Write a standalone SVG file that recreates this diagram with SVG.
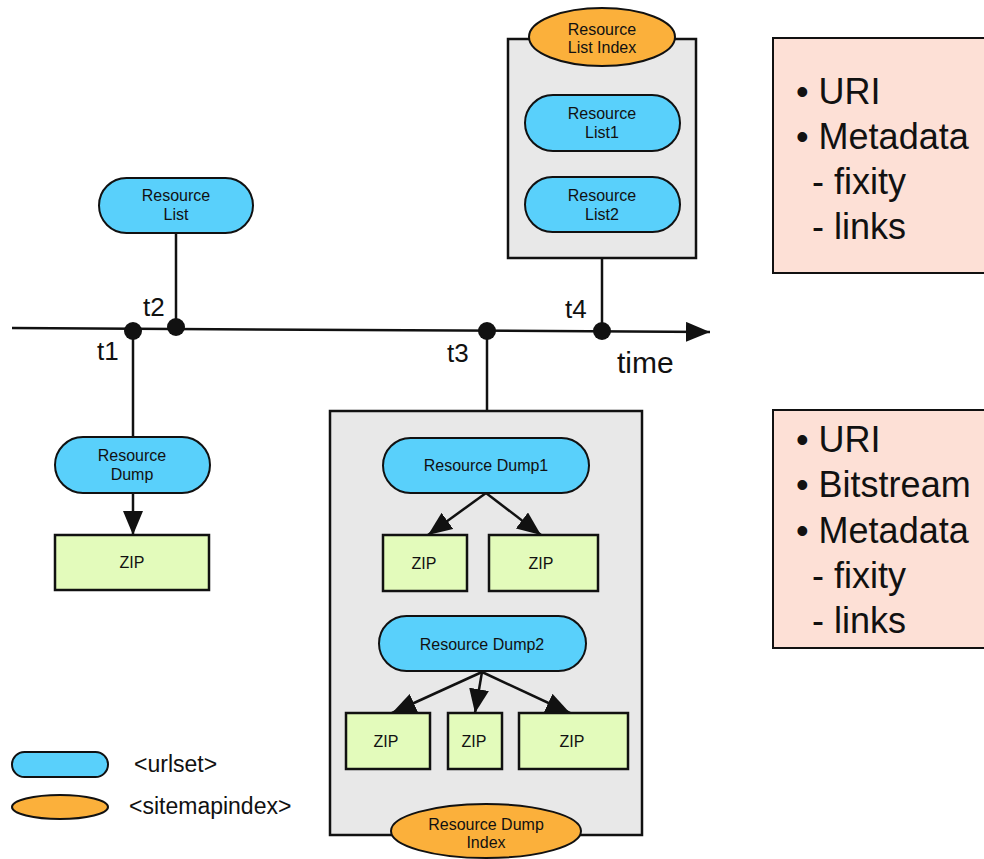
<svg xmlns="http://www.w3.org/2000/svg" width="984" height="859" viewBox="0 0 984 859">
<style>
text{font-family:"Liberation Sans",Arial,sans-serif;fill:#111}
.n{font-size:16px;text-anchor:middle}
.url{fill:#59d0fb;stroke:#111;stroke-width:2}
.idx{fill:#fbb03b;stroke:#111;stroke-width:2}
.zip{fill:#e3fbbb;stroke:#111;stroke-width:2.5}
.box{fill:#e8e8e8;stroke:#111;stroke-width:2.5}
.note{fill:#fde0d6;stroke:#111;stroke-width:2}
.ln{stroke:#111;stroke-width:2.5;fill:none}
.t{font-size:26px}
.big{font-size:36px}
.lg{font-size:23px}
</style>
<defs>
<marker id="ah" markerUnits="userSpaceOnUse" markerWidth="25" markerHeight="20" refX="24" refY="10" orient="auto" viewBox="0 0 25 20">
<path d="M0,0 L24,10 L0,20 z" fill="#111"/>
</marker>
</defs>

<g id="rli-container">
<rect class="box" x="508" y="39" width="188" height="219"/>
</g>
<g id="rdi-container">
<rect class="box" x="330" y="411" width="312" height="424"/>
</g>

<g id="connectors">
<line class="ln" x1="12" y1="328" x2="710" y2="332" marker-end="url(#ah)"/>
<line class="ln" x1="176" y1="233" x2="176" y2="327"/>
<line class="ln" x1="133" y1="331" x2="133" y2="437"/>
<line class="ln" x1="133" y1="493" x2="133" y2="535" marker-end="url(#ah)"/>
<line class="ln" x1="487" y1="331" x2="487" y2="411"/>
<line class="ln" x1="602" y1="258" x2="602" y2="331"/>
<line class="ln" x1="486" y1="493" x2="428" y2="535" marker-end="url(#ah)"/>
<line class="ln" x1="486" y1="493" x2="541" y2="535" marker-end="url(#ah)"/>
<line class="ln" x1="482" y1="672" x2="392" y2="713" marker-end="url(#ah)"/>
<line class="ln" x1="482" y1="672" x2="475" y2="713" marker-end="url(#ah)"/>
<line class="ln" x1="482" y1="672" x2="570" y2="713" marker-end="url(#ah)"/>
<circle cx="133" cy="331" r="9" fill="#111"/>
<circle cx="176" cy="327" r="9" fill="#111"/>
<circle cx="487" cy="331" r="9" fill="#111"/>
<circle cx="602" cy="331" r="9" fill="#111"/>
</g>

<g id="time-labels">
<text class="t" x="97" y="360">t1</text>
<text class="t" x="143" y="316">t2</text>
<text class="t" x="447" y="362">t3</text>
<text class="t" x="565" y="318">t4</text>
<text x="617" y="373" font-size="30">time</text>
</g>

<g id="resource-list">
<rect class="url" x="99" y="178" width="154" height="55" rx="27.5"/>
<text class="n" x="176" y="201">Resource</text>
<text class="n" x="176" y="220">List</text>
</g>

<g id="resource-dump">
<rect class="url" x="55" y="437" width="155" height="56" rx="28"/>
<text class="n" x="132" y="461">Resource</text>
<text class="n" x="132" y="480">Dump</text>
</g>
<g id="zip-left">
<rect class="zip" x="55" y="535" width="154" height="55"/>
<text class="n" x="132" y="568">ZIP</text>
</g>

<g id="resource-list-index">
<ellipse class="idx" cx="602" cy="37" rx="73" ry="29"/>
<text class="n" x="602" y="35">Resource</text>
<text class="n" x="602" y="53">List Index</text>
</g>
<g id="resource-list1">
<rect class="url" x="525" y="95" width="155" height="56" rx="28"/>
<text class="n" x="602" y="119">Resource</text>
<text class="n" x="602" y="138">List1</text>
</g>
<g id="resource-list2">
<rect class="url" x="525" y="177" width="155" height="55" rx="27.5"/>
<text class="n" x="602" y="201">Resource</text>
<text class="n" x="602" y="220">List2</text>
</g>

<g id="resource-dump1">
<rect class="url" x="383" y="438" width="206" height="55" rx="27.5"/>
<text class="n" x="486" y="471">Resource Dump1</text>
</g>
<g id="zip-1a">
<rect class="zip" x="383" y="535" width="84" height="56"/>
<text class="n" x="424" y="569">ZIP</text>
</g>
<g id="zip-1b">
<rect class="zip" x="489" y="535" width="109" height="56"/>
<text class="n" x="541" y="569">ZIP</text>
</g>

<g id="resource-dump2">
<rect class="url" x="379" y="616" width="207" height="55" rx="27.5"/>
<text class="n" x="482" y="650">Resource Dump2</text>
</g>
<g id="zip-2a">
<rect class="zip" x="346" y="713" width="84" height="56"/>
<text class="n" x="386" y="747">ZIP</text>
</g>
<g id="zip-2b">
<rect class="zip" x="448" y="713" width="54" height="56"/>
<text class="n" x="474" y="747">ZIP</text>
</g>
<g id="zip-2c">
<rect class="zip" x="519" y="713" width="109" height="56"/>
<text class="n" x="572" y="747">ZIP</text>
</g>

<g id="resource-dump-index">
<ellipse class="idx" cx="486" cy="831" rx="95" ry="27"/>
<text class="n" x="486" y="830">Resource Dump</text>
<text class="n" x="486" y="848">Index</text>
</g>

<g id="note-list">
<rect class="note" x="773" y="38" width="220" height="235"/>
<text class="big" x="796" y="104">• URI</text>
<text class="big" x="796" y="149">• Metadata</text>
<text class="big" x="812" y="194">- fixity</text>
<text class="big" x="812" y="239">- links</text>
</g>

<g id="note-dump">
<rect class="note" x="773" y="410" width="220" height="238"/>
<text class="big" x="796" y="452">• URI</text>
<text class="big" x="796" y="497">• Bitstream</text>
<text class="big" x="796" y="543">• Metadata</text>
<text class="big" x="812" y="588">- fixity</text>
<text class="big" x="812" y="633">- links</text>
</g>

<g id="legend-urlset">
<rect class="url" x="12" y="752" width="96" height="25" rx="12.5"/>
<text class="lg" x="134" y="772">&lt;urlset&gt;</text>
</g>
<g id="legend-sitemapindex">
<ellipse class="idx" cx="60" cy="807" rx="48" ry="12"/>
<text class="lg" x="129" y="814">&lt;sitemapindex&gt;</text>
</g>
</svg>
